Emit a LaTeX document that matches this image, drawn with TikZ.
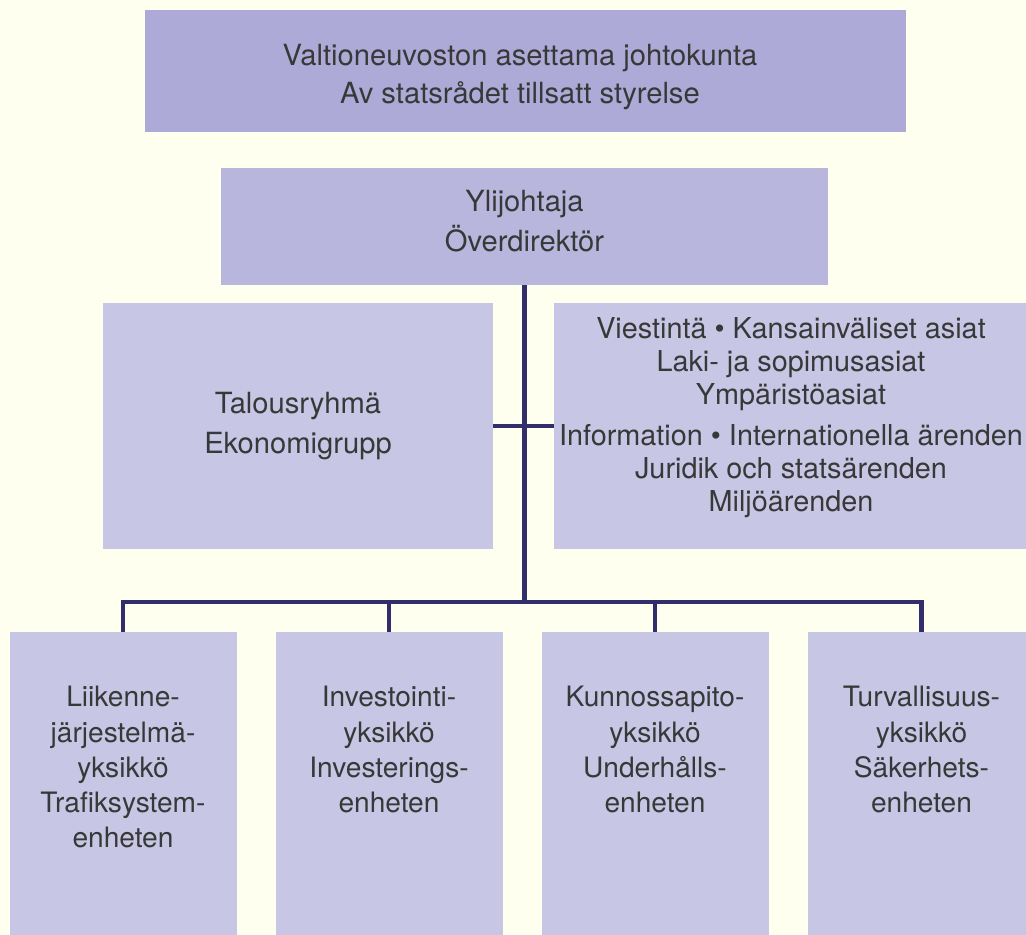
\documentclass[tikz,border=0pt]{standalone}
\usepackage{fontspec}
\setmainfont{TeX Gyre Heros}
\usetikzlibrary{positioning}
\definecolor{paper}{HTML}{FFFFF0}
\definecolor{board}{HTML}{ADAAD7}
\definecolor{chiefc}{HTML}{B8B6DC}
\definecolor{unitc}{HTML}{C7C6E4}
\definecolor{wire}{HTML}{322E6C}
\definecolor{ink}{HTML}{383838}
\newcommand\pxl{0.02cm}

\tikzset{
  orgbox/.style={fill=#1, inner sep=0pt},
  orgtext/.style={inner sep=0pt, align=center, text=ink, font=#1},
  link/.style={draw=wire, line width=2.5pt, line join=miter}
}

\begin{document}
\begin{tikzpicture}[x=\pxl, y=-\pxl]
  % Page
  \fill[paper] (0,0) rectangle (1026,934);
  \clip (0,0) rectangle (1026,934);

  % Board and director
  \node[orgbox=board, minimum width=761*\pxl, minimum height=122*\pxl] (board) at (525.5,71) {};
  \node[orgtext={\fontsize{16.6}{21.6}\selectfont}] (boardtxt) at (520,77)
    {Valtioneuvoston asettama johtokunta\\Av statsrådet tillsatt styrelse};
  \node[orgbox=chiefc, minimum width=607*\pxl, minimum height=117*\pxl] (chief) at (524.5,226.5) {};
  \node[orgtext={\fontsize{16.6}{22.5}\selectfont}] (chieftxt) at (524.5,221)
    {Ylijohtaja\\Överdirektör};

  % Staff boxes
  \node[orgbox=unitc, minimum width=390*\pxl, minimum height=246*\pxl] (finance) at (298,426) {};
  \node[orgtext={\fontsize{16.6}{22.5}\selectfont}] (financetxt) at (298,426)
    {Talousryhmä\\Ekonomigrupp};
  \node[orgbox=unitc, minimum width=476*\pxl, minimum height=246*\pxl] (staff) at (792,426) {};
  \node[orgtext={\fontsize{16.4}{18.8}\selectfont}] (stafftxt) at (791,418)
    {Viestintä • Kansainväliset asiat\\Laki- ja sopimusasiat\\Ympäristöasiat\\[4.5pt]
     Information • Internationella ärenden\\Juridik och statsärenden\\Miljöärenden};

  % Units
  \coordinate (bus) at (522.5,602);
  \foreach \n/\x/\txt in {1/123/{Liikenne-\\järjestelmä-\\yksikkö\\Trafiksystem-\\enheten},
    2/389/{Investointi-\\yksikkö\\Investerings-\\enheten},
    3/655/{Kunnossapito-\\yksikkö\\Underhålls-\\enheten},
    4/921.5/{Turvallisuus-\\yksikkö\\Säkerhets-\\enheten}} {
    \node[orgbox=unitc, minimum width=227*\pxl, minimum height=320*\pxl, anchor=north] (unit\n) at (\x,632) {};
    \node[orgtext={\fontsize{16}{20}\selectfont}, anchor=north] (unit\n txt) at (\x,686) {\txt};
  }

  % Connectors
  \draw[link] (chief.south) -- (chief.south |- bus);
  \draw[link] (finance.east) -- (staff.west);
  \draw[link] (unit1.north) -- (unit1.north |- bus) -- (unit4.north |- bus) -- (unit4.north);
  \foreach \n in {2,3}
    \draw[link] (unit\n.north) -- (unit\n.north |- bus);
\end{tikzpicture}
\end{document}
